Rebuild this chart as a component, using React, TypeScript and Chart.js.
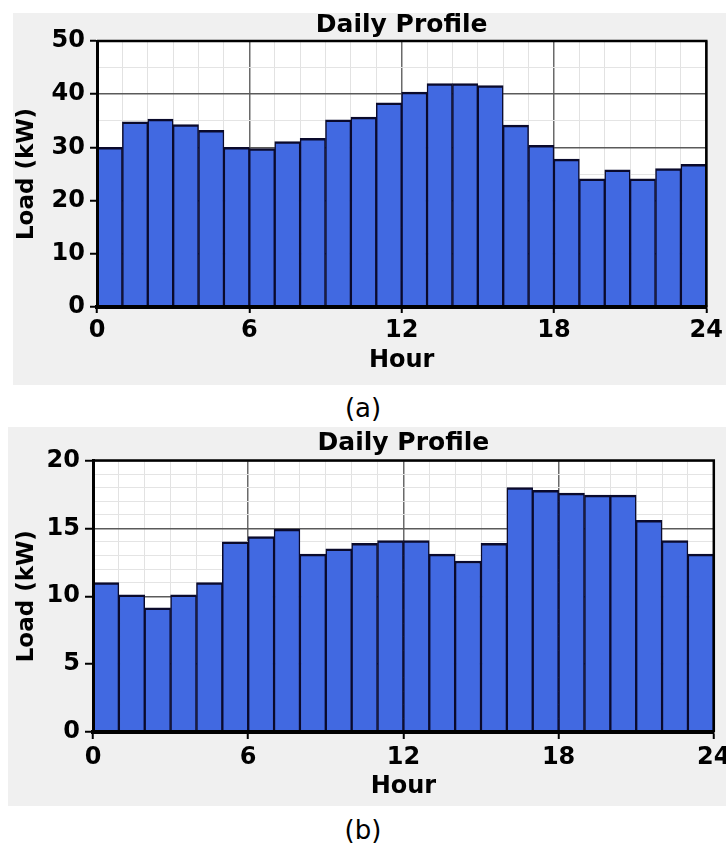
import React, { useEffect, useRef } from 'react';
import { Chart, registerables } from 'chart.js';

Chart.register(...registerables);

// ---------- data ----------
const hours = [0, 1, 2, 3, 4, 5, 6, 7, 8, 9, 10, 11, 12, 13, 14, 15, 16, 17, 18, 19, 20, 21, 22, 23];
const loadA = [30.0, 34.8, 35.3, 34.3, 33.2, 30.0, 29.8, 31.1, 31.7, 35.2, 35.7, 38.4, 40.4, 42.0, 42.0, 41.6, 34.2, 30.4, 27.8, 24.1, 25.8, 24.1, 26.0, 26.8];
const loadB = [11.0, 10.1, 9.15, 10.1, 11.0, 14.0, 14.4, 14.95, 13.1, 13.5, 13.9, 14.1, 14.1, 13.1, 12.6, 13.9, 18.0, 17.8, 17.6, 17.45, 17.45, 15.6, 14.1, 13.1];
const xTickLabels = [0, 6, 12, 18, 24];
const yTickLabelsA = [0, 10, 20, 30, 40, 50];
const yTickLabelsB = [0, 5, 10, 15, 20];
const chartTitle = 'Daily Profile';
const xTitle = 'Hour';
const yTitle = 'Load (kW)';
const captionA = '(a)';
const captionB = '(b)';

const FONT = '"DejaVu Sans", "Liberation Sans", Arial, sans-serif';

const plotBackground = {
  id: 'plotBackground',
  beforeDraw(chart: any) {
    const { ctx, chartArea: a } = chart;
    ctx.save();
    ctx.fillStyle = '#ffffff';
    ctx.fillRect(a.left, a.top, a.right - a.left, a.bottom - a.top);
    ctx.restore();
  },
};

const plotFrame = {
  id: 'plotFrame',
  afterDatasetsDraw(chart: any) {
    const { ctx, chartArea: a } = chart;
    ctx.save();
    ctx.strokeStyle = '#000000';
    ctx.lineWidth = 2.5;
    ctx.beginPath();
    ctx.moveTo(a.left, a.top);
    ctx.lineTo(a.right, a.top);
    ctx.lineTo(a.right, a.bottom);
    ctx.stroke();
    ctx.restore();
  },
};

type Props = {
  values: number[];
  yMax: number;
  yStep: number;
  yMajor: number[];
  left: number;
  top: number;
  width: number;
  height: number;
  yAxisWidth: number;
  xAxisHeight: number;
  titlePadTop: number;
  titlePadBottom: number;
  yTitlePadTop: number;
  yTickLength: number;
  yTickPad: number;
  xTickLength: number;
  xTickPad: number;
  xTitlePadBottom: number;
};

function ProfileChart(p: Props) {
  const ref = useRef<HTMLCanvasElement | null>(null);

  useEffect(() => {
    if (!ref.current) return;
    const isMajorX = (c: any) => !!c.tick && xTickLabels.includes(c.tick.value);
    const isMajorY = (c: any) => !!c.tick && p.yMajor.includes(c.tick.value);
    const chart = new Chart(ref.current, {
      type: 'bar',
      data: {
        datasets: [
          {
            data: hours.map((h, i) => ({ x: h + 0.5, y: p.values[i] })),
            backgroundColor: '#4169e1',
            borderColor: '#0a0a2c',
            borderWidth: { top: 2.5, left: 1.5, right: 1.5, bottom: 0 },
            barPercentage: 1,
            categoryPercentage: 1,
          } as any,
        ],
      },
      options: {
        animation: false,
        responsive: false,
        maintainAspectRatio: false,
        devicePixelRatio: 1,
        layout: { padding: 0 },
        events: [],
        plugins: {
          legend: { display: false },
          tooltip: { enabled: false },
          title: {
            display: true,
            text: chartTitle,
            fullSize: false,
            color: '#000000',
            font: { family: FONT, size: 25, weight: 'bold', lineHeight: 1 },
            padding: { top: p.titlePadTop, bottom: p.titlePadBottom },
          },
        },
        scales: {
          x: {
            type: 'linear',
            min: 0,
            max: 24,
            offset: false,
            grid: {
              offset: false,
              color: (c: any) => (isMajorX(c) ? '#6a6a6a' : '#e2e2e2'),
              lineWidth: (c: any) => (isMajorX(c) ? 1.5 : 1),
              tickColor: (c: any) => (isMajorX(c) ? '#000000' : 'rgba(0,0,0,0)'),
              tickLength: p.xTickLength,
              tickWidth: 2,
            },
            border: { display: true, color: '#000000', width: 4, z: 1 },
            ticks: {
              stepSize: 1,
              autoSkip: false,
              maxRotation: 0,
              minRotation: 0,
              padding: p.xTickPad,
              color: '#000000',
              font: { family: FONT, size: 24, weight: 'bold' },
              callback: (v: any) => (xTickLabels.includes(Number(v)) ? String(v) : ''),
            },
            title: {
              display: true,
              text: xTitle,
              color: '#000000',
              font: { family: FONT, size: 24, weight: 'bold', lineHeight: 1.2 },
              padding: { top: 0, bottom: p.xTitlePadBottom },
            },
            afterFit: (s: any) => {
              s.height = p.xAxisHeight;
            },
          },
          y: {
            type: 'linear',
            min: 0,
            max: p.yMax,
            grid: {
              color: (c: any) => (isMajorY(c) ? '#5a5a5a' : '#e4e4e4'),
              lineWidth: (c: any) => (isMajorY(c) ? 1.5 : 1),
              tickColor: (c: any) => (isMajorY(c) ? '#000000' : 'rgba(0,0,0,0)'),
              tickLength: p.yTickLength,
              tickWidth: 2,
            },
            border: { display: true, color: '#000000', width: 3, z: 1 },
            ticks: {
              stepSize: p.yStep,
              autoSkip: false,
              padding: p.yTickPad,
              color: '#000000',
              font: { family: FONT, size: 24, weight: 'bold' },
              callback: (v: any) => (p.yMajor.includes(Number(v)) ? String(v) : ''),
            },
            title: {
              display: true,
              text: yTitle,
              color: '#000000',
              font: { family: FONT, size: 23, weight: 'bold', lineHeight: 1.2 },
              padding: { top: p.yTitlePadTop, bottom: 0 },
            },
            afterFit: (s: any) => {
              s.width = p.yAxisWidth;
            },
          },
        },
      } as any,
      plugins: [plotBackground, plotFrame],
    });
    return () => chart.destroy();
  }, []);

  return (
    <canvas
      ref={ref}
      width={p.width}
      height={p.height}
      style={{
        position: 'absolute',
        left: p.left,
        top: p.top,
        width: p.width,
        height: p.height,
        background: '#f0f0f0',
        display: 'block',
      }}
    />
  );
}

const captionStyle: React.CSSProperties = {
  position: 'absolute',
  left: 0,
  width: 726,
  textAlign: 'center',
  fontFamily: FONT,
  fontSize: 26,
  lineHeight: '30px',
  color: '#000000',
};

export default function App() {
  return (
    <div
      style={{
        position: 'absolute',
        left: 0,
        top: 0,
        width: 726,
        height: 843,
        overflow: 'hidden',
        background: '#ffffff',
      }}
    >
      <ProfileChart
        values={loadA}
        yMax={50}
        yStep={5}
        yMajor={yTickLabelsA}
        left={13}
        top={13}
        width={713}
        height={372}
        yAxisWidth={84}
        xAxisHeight={78}
        titlePadTop={0}
        titlePadBottom={3}
        yTitlePadTop={0}
        yTickLength={7}
        yTickPad={5}
        xTickLength={6}
        xTickPad={3}
        xTitlePadBottom={10}
      />
      <div style={{ ...captionStyle, top: 393 }}>{captionA}</div>
      <ProfileChart
        values={loadB}
        yMax={20}
        yStep={1}
        yMajor={yTickLabelsB}
        left={8}
        top={427}
        width={727}
        height={379}
        yAxisWidth={85}
        xAxisHeight={74}
        titlePadTop={3.5}
        titlePadBottom={5}
        yTitlePadTop={5}
        yTickLength={8}
        yTickPad={5}
        xTickLength={7}
        xTickPad={4.5}
        xTitlePadBottom={5}
      />
      <div style={{ ...captionStyle, top: 815 }}>{captionB}</div>
    </div>
  );
}
